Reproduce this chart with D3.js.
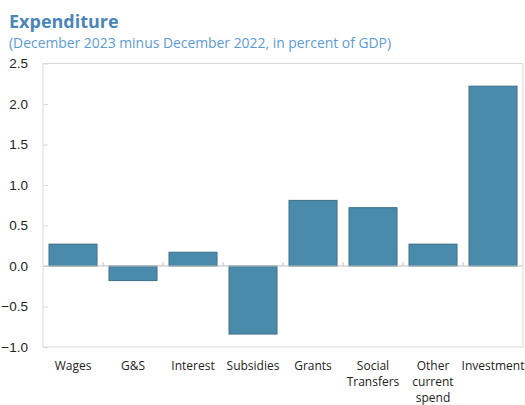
<!DOCTYPE html>
<html>
<head>
<meta charset="utf-8">
<script src="https://cdn.jsdelivr.net/npm/d3@7"></script>
<style>
  body { margin: 0; background: #fff; }
  svg { display: block; font-family: "Open Sans", "Noto Sans", sans-serif; }
</style>
</head>
<body>
<svg id="chart"></svg>
<script>
// data
var categories = ["Wages", "G&S", "Interest", "Subsidies", "Grants", "Social Transfers", "Other current spend", "Investment"];
var catLines = [["Wages"], ["G&S"], ["Interest"], ["Subsidies"], ["Grants"], ["Social", "Transfers"], ["Other", "current", "spend"], ["Investment"]];
var values = [0.27, -0.18, 0.17, -0.84, 0.81, 0.72, 0.27, 2.22];
var yTicks = [-1.0, -0.5, 0.0, 0.5, 1.0, 1.5, 2.0, 2.5];

var W = 525, H = 405;
var margin = { top: 63.5, right: 2, bottom: 58, left: 43 };
var width = W - margin.left - margin.right,
    height = H - margin.top - margin.bottom;

var svg = d3.select("#chart").attr("width", W).attr("height", H);

// titles
svg.append("text")
    .attr("x", 9).attr("y", 28)
    .attr("font-size", 18).attr("font-weight", "bold")
    .attr("fill", "#4a86b9")
    .text("Expenditure");
svg.append("text")
    .attr("x", 9).attr("y", 48)
    .attr("font-size", 13.9)
    .attr("fill", "#5b9bd5")
    .text("(December 2023 minus December 2022, in percent of GDP)");

var g = svg.append("g").attr("transform", "translate(" + margin.left + "," + margin.top + ")");

var x = d3.scaleBand().domain(categories).range([0, width]).paddingInner(0.2).paddingOuter(0.1);
var y = d3.scaleLinear().domain([-1, 2.5]).range([height, 0]);

// frame
g.append("rect")
    .attr("x", 0).attr("y", 0)
    .attr("width", width).attr("height", height)
    .attr("fill", "none").attr("stroke", "#d9d9d9");

// y axis: inward ticks, labels to the left
var yAxis = g.append("g")
    .call(d3.axisLeft(y).tickValues(yTicks).tickFormat(d3.format(".1f")).tickSize(0).tickPadding(15));
yAxis.select(".domain").remove();
yAxis.selectAll("text").attr("font-size", 13.5).attr("fill", "#222").attr("font-family", null);
yAxis.selectAll(".tick").append("line")
    .attr("x1", 0).attr("x2", 5).attr("stroke", "#d9d9d9");

// bars
g.selectAll(".bar")
    .data(values)
    .enter().append("rect")
    .attr("class", "bar")
    .attr("x", function(d, i) { return x(categories[i]); })
    .attr("width", x.bandwidth())
    .attr("y", function(d) { return y(Math.max(0, d)); })
    .attr("height", function(d) { return Math.abs(y(d) - y(0)); })
    .attr("fill", "#4a8bab")
    .attr("stroke", "#3b6f89")
    .attr("stroke-width", 1);

// zero line with category separators
g.append("line")
    .attr("x1", 0).attr("x2", width)
    .attr("y1", y(0)).attr("y2", y(0))
    .attr("stroke", "#bfbfbf");
var step = x.step();
g.selectAll(".sep")
    .data(d3.range(1, categories.length))
    .enter().append("line")
    .attr("x1", function(d) { return d * step; })
    .attr("x2", function(d) { return d * step; })
    .attr("y1", y(0)).attr("y2", y(0) - 4)
    .attr("stroke", "#bfbfbf");

// category labels
var lab = g.selectAll(".cat")
    .data(catLines)
    .enter().append("text")
    .attr("class", "cat")
    .attr("text-anchor", "middle")
    .attr("font-size", 12)
    .attr("fill", "#222")
    .attr("transform", function(d, i) { return "translate(" + (x(categories[i]) + x.bandwidth() / 2) + "," + (height + 23) + ")"; });
lab.selectAll("tspan")
    .data(function(d) { return d; })
    .enter().append("tspan")
    .attr("x", 0)
    .attr("dy", function(d, i) { return i === 0 ? 0 : 16; })
    .text(function(d) { return d; });
</script>
</body>
</html>
